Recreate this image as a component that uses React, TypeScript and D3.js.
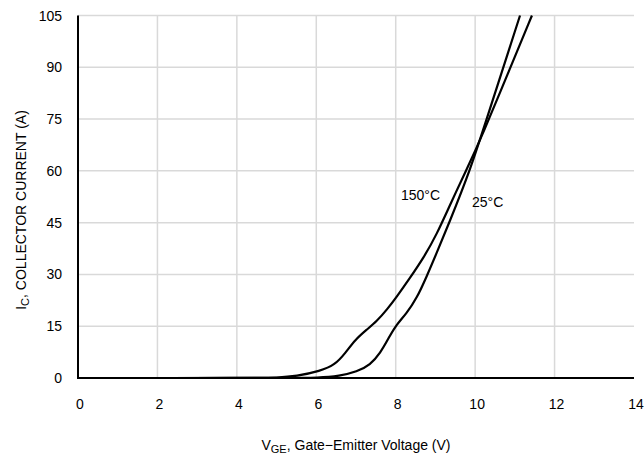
import * as d3 from "d3";
import { useEffect, useRef } from "react";

// gate-emitter voltage (V) / collector current (A)
const v150 = [0, 4.5, 5.0, 5.5, 6.1, 6.47, 6.73, 6.98, 7.27, 7.52, 7.78, 8.03, 8.36, 8.7, 9.03, 9.4, 9.77, 10.17, 10.89, 11.43];
const i150 = [0, 0, 0.1, 0.5, 2.0, 3.8, 7.2, 11.1, 14, 16.4, 19.8, 23.6, 29, 34.8, 41.5, 51, 60, 70, 90, 105];

const v25 = [0, 5.5, 6.0, 6.6, 7.02, 7.36, 7.61, 7.82, 7.98, 8.28, 8.53, 8.78, 9.03, 9.33, 9.87, 10.29, 11.13];
const i25 = [0, 0, 0.05, 0.6, 1.8, 3.8, 7.2, 11.5, 14.9, 18.8, 23.1, 29.4, 36.2, 44.5, 60, 75, 105];

const xTicks = [0, 2, 4, 6, 8, 10, 12, 14];
const yTicks = [0, 15, 30, 45, 60, 75, 90, 105];

const W = 644;
const H = 455;
const FONT = "'Liberation Sans', Arial, Helvetica, sans-serif";

export default function App() {
    const ref = useRef<SVGSVGElement | null>(null);

    useEffect(() => {
        if (!ref.current) return;
        const svg = d3.select(ref.current);
        svg.selectAll("*").remove();

        const x = d3.scaleLinear().domain([0, 14]).range([78, 634]);
        const y = d3.scaleLinear().domain([0, 105]).range([378, 15.5]);

        const g = svg.append("g").attr("font-family", FONT);

        // grid
        g.selectAll("line.vgrid")
            .data(xTicks.filter(t => t > 0 && t < 14))
            .join("line")
            .attr("class", "vgrid")
            .attr("x1", d => x(d)).attr("x2", d => x(d))
            .attr("y1", y(0)).attr("y2", y(105))
            .attr("stroke", "#d9d9d9")
            .attr("stroke-width", 1.5);

        g.selectAll("line.hgrid")
            .data(yTicks.filter(t => t > 0))
            .join("line")
            .attr("class", "hgrid")
            .attr("x1", x(0)).attr("x2", x(14))
            .attr("y1", d => y(d)).attr("y2", d => y(d))
            .attr("stroke", "#d9d9d9")
            .attr("stroke-width", 1.5);

        // axes
        g.append("line")
            .attr("x1", x(0)).attr("x2", x(0))
            .attr("y1", y(0)).attr("y2", y(105))
            .attr("stroke", "#000").attr("stroke-width", 2);
        g.append("line")
            .attr("x1", x(0) - 1).attr("x2", x(14))
            .attr("y1", y(0)).attr("y2", y(0))
            .attr("stroke", "#000").attr("stroke-width", 2);

        // tick labels
        g.selectAll("text.xt")
            .data(xTicks)
            .join("text")
            .attr("class", "xt")
            .attr("x", d => x(d) + 2)
            .attr("y", 409)
            .attr("text-anchor", "middle")
            .attr("font-size", 14)
            .text(d => d);

        g.selectAll("text.yt")
            .data(yTicks)
            .join("text")
            .attr("class", "yt")
            .attr("x", 62)
            .attr("y", d => y(d) + 5)
            .attr("text-anchor", "end")
            .attr("font-size", 14)
            .text(d => d);

        // axis titles
        const xt = g.append("text")
            .attr("x", 356)
            .attr("y", 450)
            .attr("text-anchor", "middle")
            .attr("font-size", 14);
        xt.append("tspan").text("V");
        xt.append("tspan").attr("font-size", 11).attr("dy", 2.5).text("GE");
        xt.append("tspan").attr("dy", -2.5).text(", Gate\u2212Emitter Voltage (V)");

        const yt = g.append("text")
            .attr("transform", `translate(26, 210) rotate(-90)`)
            .attr("text-anchor", "middle")
            .attr("font-size", 14);
        yt.append("tspan").text("I");
        yt.append("tspan").attr("font-size", 11).attr("dy", 2.5).text("C");
        yt.append("tspan").attr("dy", -2.5).text(", COLLECTOR CURRENT (A)");

        // curves
        const line = d3.line<[number, number]>()
            .x(d => x(d[0]))
            .y(d => y(d[1]))
            .curve(d3.curveBasis);

        const series = [
            v150.map((v, i) => [v, i150[i]] as [number, number]),
            v25.map((v, i) => [v, i25[i]] as [number, number]),
        ];

        g.selectAll("path.curve")
            .data(series)
            .join("path")
            .attr("class", "curve")
            .attr("fill", "none")
            .attr("stroke", "#000")
            .attr("stroke-width", 2.2)
            .attr("stroke-linejoin", "round")
            .attr("d", d => line(d) ?? "");

        // labels on curves
        g.append("text")
            .attr("x", 401).attr("y", 200)
            .attr("font-size", 14)
            .text("150\u00b0C");
        g.append("text")
            .attr("x", 472).attr("y", 207)
            .attr("font-size", 14)
            .text("25\u00b0C");
    }, []);

    return (
        <svg
            ref={ref}
            width={W}
            height={H}
            style={{ position: "absolute", left: 0, top: 0, display: "block", background: "#fff" }}
        />
    );
}
